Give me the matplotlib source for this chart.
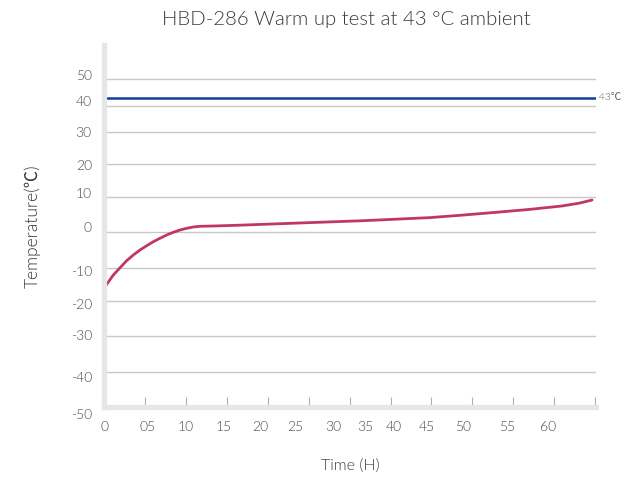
import numpy as np
import matplotlib
matplotlib.use("Agg")
import matplotlib.pyplot as plt
from matplotlib.transforms import ScaledTranslation

plt.rcParams['font.family'] = ['Lato', 'Noto Sans CJK SC', 'DejaVu Sans']
LIGHT = 300

# ---- data -------------------------------------------------------------
time_h = [0, 0.28, 1.05, 1.83, 2.6, 3.37, 4.15, 4.93, 5.79, 6.67, 7.55, 8.42,
          9.3, 10.18, 11.04, 11.91, 13.64, 15.87, 18.6, 25.2, 34.7, 45.5, 50.1,
          53.8, 57.8, 61.8, 63.9, 65.5]
temp_c = [-15.9, -14.94, -12.07, -9.84, -7.92, -6.37, -5.0, -3.83, -2.73, -1.8,
          -0.9, -0.16, 0.49, 0.99, 1.37, 1.57, 1.66, 1.8, 2.0, 2.5, 3.2, 4.1,
          4.85, 5.65, 6.5, 7.5, 8.3, 9.2]
ambient_c = 43

x_tick_values = [0, 5, 10, 15, 20, 25, 30, 35, 40, 45, 50, 55, 60]
x_tick_labels = ['0', '05', '10', '15', '20', '25', '30', '35', '40', '45', '50', '55', '60']
y_tick_values = [-50, -40, -30, -20, -10, 0, 10, 20, 30, 40, 50]
y_tick_labels = ['-50', '-40', '-30', '-20', '-10', '0', '10', '20', '30', '40', '50']

# ---- nonuniform axis scales (value -> screen position anchors) --------
x_anchor_val = np.array(x_tick_values + [66])
x_anchor_pos = np.array([104.3, 147.3, 185.3, 223.7, 260, 295, 333.3, 365,
                         394, 426.7, 462.7, 507.3, 548.3, 596.0])
y_anchor_val = np.array(y_tick_values + [63])
y_anchor_pos = np.array([407, 372.3, 336.3, 300.7, 268.3, 231.7, 197.3,
                         163.7, 132, 106, 79.3, 44.6])


def x_fwd(v):
    return np.interp(v, x_anchor_val, x_anchor_pos)


def x_inv(u):
    return np.interp(u, x_anchor_pos, x_anchor_val)


def y_fwd(v):
    return -np.interp(v, y_anchor_val, y_anchor_pos)


def y_inv(u):
    return np.interp(-np.asarray(u), y_anchor_pos[::-1], y_anchor_val[::-1])


W, H = 627, 478
fig = plt.figure(figsize=(W / 100, H / 100), dpi=100)
left_px, right_px, top_px, bottom_px = 104.3, 596.0, 44.6, 407.0
ax = fig.add_axes([left_px / W, 1 - bottom_px / H,
                   (right_px - left_px) / W, (bottom_px - top_px) / H])
ax.set_xscale('function', functions=(x_fwd, x_inv))
ax.set_yscale('function', functions=(y_fwd, y_inv))
ax.set_xlim(0, 66)
ax.set_ylim(-50, 63)

# gridlines
ax.set_yticks(y_tick_values)
ax.set_yticklabels(y_tick_labels)
ax.yaxis.grid(True, color='#c8c8c8', linewidth=1.0)
ax.set_axisbelow(True)

# x ticks: labels only; evenly spaced small marks as minor ticks
ax.set_xticks(x_tick_values)
ax.set_xticklabels(x_tick_labels)
u0, u1 = x_fwd(0), x_fwd(66) - 1.0
ax.set_xticks(x_inv(np.linspace(u0, u1, 13)[1:]), minor=True)
ax.tick_params(axis='x', which='major', length=0, pad=10,
               labelsize=10, labelcolor='#4a4a4a')
ax.tick_params(axis='x', which='minor', direction='in', length=7.5,
               width=0.8, color='#b0b0b0')
ax.tick_params(axis='y', which='both', length=0, pad=9,
               labelsize=10, labelcolor='#4a4a4a')
for lab in ax.get_xticklabels() + ax.get_yticklabels():
    lab.set_fontweight(LIGHT)

# small per-label vertical nudges of the y labels (pixels, +down)
y_label_nudge = [7.3, 4.5, -0.8, 3.0, 2.4, -4.5, -4.0, 0.8, 0.2, -4.8, -3.8]
for lab, d in zip(ax.get_yticklabels(), y_label_nudge):
    lab.set_transform(lab.get_transform() +
                      ScaledTranslation(0, -d / 100, fig.dpi_scale_trans))

for side in ('top', 'right'):
    ax.spines[side].set_visible(False)
for side in ('left', 'bottom'):
    ax.spines[side].set_color('#e6e6e6')
    ax.spines[side].set_linewidth(3.8)

# ambient reference and warm-up curve
ax.axhline(ambient_c, color='#0e3f97', linewidth=1.8, zorder=2)
ax.plot(time_h, temp_c, color='#c0385f', linewidth=2.0, zorder=2,
        solid_capstyle='round', solid_joinstyle='round')
ax.text(1.0, ambient_c, ' 43\u2103', transform=ax.get_yaxis_transform(),
        ha='left', va='center', fontsize=7.5, color='#555555',
        fontweight=LIGHT, clip_on=False)

fig.text(346.5 / W, 1 - 20 / H, 'HBD-286 Warm up test at 43 \u00b0C ambient',
         ha='center', va='center', fontsize=14.7, color='#3a3a3a',
         fontweight=LIGHT)
fig.text(350 / W, 1 - 466 / H, 'Time (H)', ha='center', va='center',
         fontsize=11.5, color='#3a3a3a', fontweight=LIGHT)
fig.text(32 / W, 1 - 226 / H, 'Temperature(\u2103)', ha='center', va='center',
         rotation=90, fontsize=12.5, color='#3a3a3a', fontweight=LIGHT)

fig.savefig('out.png', dpi=100)
